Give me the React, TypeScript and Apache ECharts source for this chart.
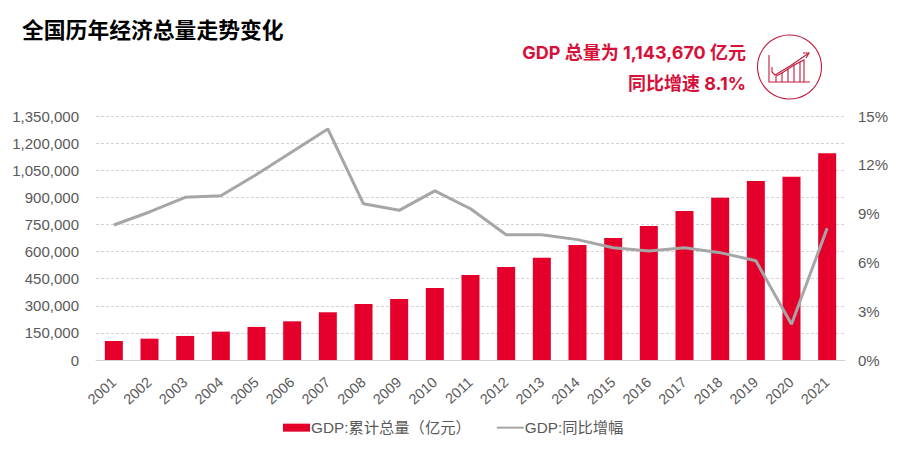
import React, { useEffect, useRef } from "react";
import * as echarts from "echarts";

const years = ["2001","2002","2003","2004","2005","2006","2007","2008","2009","2010","2011","2012","2013","2014","2015","2016","2017","2018","2019","2020","2021"];
const gdpTotal = [105000,118000,133000,157000,183000,214000,264000,310000,338000,398000,470000,515000,566000,636000,675000,741000,824000,898000,990000,1014000,1143670];
const gdpGrowth = [8.3,9.1,10.0,10.1,11.4,12.8,14.2,9.6,9.2,10.4,9.3,7.7,7.7,7.4,6.9,6.7,6.9,6.6,6.1,2.2,8.1];
const barName = "GDP:累计总量（亿元）";
const lineName = "GDP:同比增幅";
const titleText = "全国历年经济总量走势变化";
const noteLine1 = "GDP 总量为 1,143,670 亿元";
const noteLine2 = "同比增速 8.1%";

const RED = "#e4002b";
const NOTE_RED = "#d7103a";
const GREY = "#a6a6a6";
const AXIS_TEXT = "#595959";
const FONT = "'Liberation Sans','Noto Sans CJK SC',sans-serif";
const BOLD = "'Noto Sans','Noto Sans CJK SC',sans-serif";
const NOTE_FONT = "Inter,'Noto Sans CJK SC',sans-serif";
const ICON = "#c01a3c";

export default function App() {
  const ref = useRef<HTMLDivElement>(null);
  useEffect(() => {
    const chart = echarts.init(ref.current!, undefined, { renderer: "svg" });
    const iconStroke = { stroke: ICON, lineWidth: 1.1, fill: "none" };
    chart.setOption({
      animation: false,
      backgroundColor: "#fff",
      grid: { left: 96, right: 74, top: 116, bottom: 103 },
      legend: {
        left: 283, top: 420, padding: 0, itemWidth: 27, itemHeight: 8, itemGap: 26,
        textStyle: { fontFamily: FONT, fontSize: 15.3, color: AXIS_TEXT, padding: [0, 0, 0, -4] },
        data: [
          { name: barName, icon: "rect" },
          { name: lineName, icon: "path://M0 0L0 0M0 3H27V5H0ZM0 8L0 8" },
        ],
      },
      xAxis: {
        type: "category", data: years,
        axisTick: { show: false },
        axisLine: { lineStyle: { color: "#d0d0d0", width: 1 } },
        axisLabel: { rotate: 42, interval: 0, fontFamily: FONT, fontSize: 14.5, color: AXIS_TEXT, margin: 20 },
      },
      yAxis: [
        {
          type: "value", min: 0, max: 1350000, interval: 150000,
          axisLine: { show: false }, axisTick: { show: false },
          axisLabel: {
            fontFamily: FONT, fontSize: 15, color: AXIS_TEXT, margin: 17,
            formatter: (v: number) => v.toLocaleString("en-US"),
          },
          splitLine: { lineStyle: { color: "#d4d4d4", type: [3, 2], width: 1 } },
        },
        {
          type: "value", min: 0, max: 15, interval: 3,
          axisLine: { show: false }, axisTick: { show: false },
          axisLabel: { fontFamily: FONT, fontSize: 15, color: AXIS_TEXT, margin: 13, formatter: "{value}%" },
          splitLine: { show: false },
        },
      ],
      series: [
        { name: barName, type: "bar", data: gdpTotal, barWidth: 18, itemStyle: { color: RED } },
        {
          name: lineName, type: "line", yAxisIndex: 1, data: gdpGrowth, symbol: "none",
          lineStyle: { color: GREY, width: 3 }, itemStyle: { color: GREY }, z: 3,
        },
      ],
      graphic: [
        { type: "text", x: 22, y: 19, style: { text: titleText, font: `bold 21.8px ${BOLD}`, fill: "#000" } },
        { type: "text", x: 746, y: 43, style: { text: noteLine1, font: `bold 18px ${NOTE_FONT}`, fill: NOTE_RED, align: "right" } },
        { type: "text", x: 746, y: 74, style: { text: noteLine2, font: `bold 18px ${NOTE_FONT}`, fill: NOTE_RED, align: "right" } },
        { type: "circle", shape: { cx: 789.5, cy: 67, r: 32 }, style: iconStroke },
        { type: "polyline", shape: { points: [[769, 55], [769, 82], [810, 82]] }, style: iconStroke },
        { type: "polyline", shape: { points: [[772, 67], [772, 72], [775, 75], [790, 66], [809, 53]] }, style: iconStroke },
        { type: "polyline", shape: { points: [[803, 53], [809, 53], [806, 58]] }, style: iconStroke },
        { type: "polyline", shape: { points: [[776, 82], [776, 76], [782, 73], [782, 82]] }, style: iconStroke },
        { type: "polyline", shape: { points: [[782, 73], [788, 69], [788, 82]] }, style: iconStroke },
        { type: "polyline", shape: { points: [[788, 69], [794, 65], [794, 82]] }, style: iconStroke },
        { type: "polyline", shape: { points: [[794, 65], [800, 62], [800, 82]] }, style: iconStroke },
        { type: "polyline", shape: { points: [[800, 62], [804, 60], [804, 82]] }, style: iconStroke },
      ],
    });
    return () => chart.dispose();
  }, []);
  return <div ref={ref} style={{ position: "fixed", left: 0, top: 0, width: 919, height: 463 }} />;
}
